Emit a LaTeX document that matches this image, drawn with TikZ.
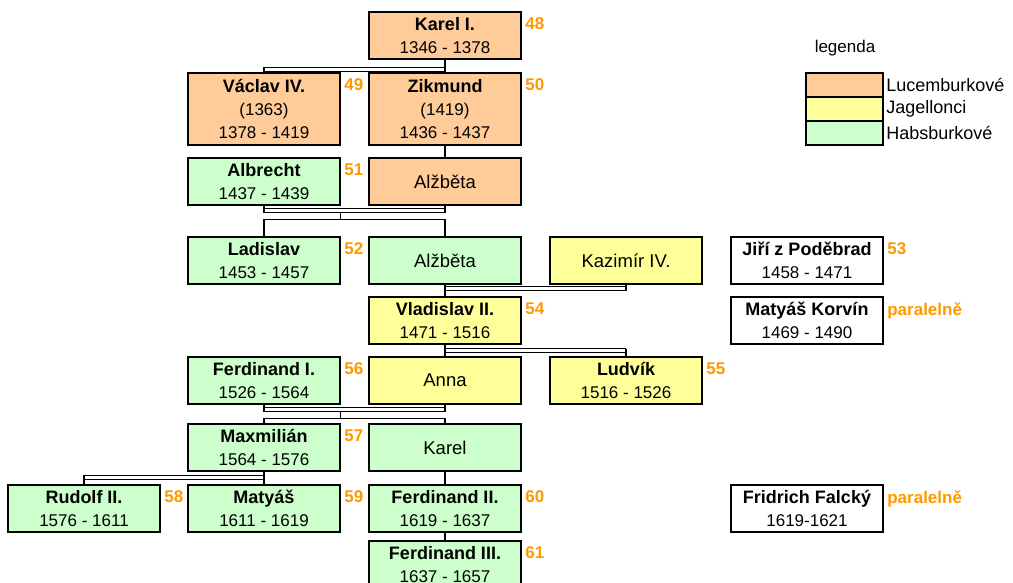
\documentclass[tikz,border=0pt]{standalone}
\usepackage{fontspec}
\setmainfont{Liberation Sans}
\definecolor{luxfill}{RGB}{255,204,153}
\definecolor{jagfill}{RGB}{255,255,153}
\definecolor{habfill}{RGB}{204,255,204}
\definecolor{numorange}{RGB}{255,153,0}
\newcommand{\panovnik}[1]{{\bfseries\fontsize{18}{23}\selectfont #1}}
\tikzset{
    every node/.style={inner sep=0pt, font=\fontsize{17}{23}\selectfont}
}
\tikzset{
    krab/.style={draw, line width=1.5pt, minimum width=152pt, minimum height=47pt, align=center},
    lux/.style={krab, fill=luxfill},
    jag/.style={krab, fill=jagfill},
    hab/.style={krab, fill=habfill},
    cizi/.style={krab, fill=white},
    jen/.style={font=\fontsize{18.5}{23}\selectfont},
    num/.style={anchor=north west, text=numorange, font=\bfseries\fontsize{17}{17}\selectfont},
    couple/.style={double, double distance=2.8pt},
    legbox/.style={draw, line width=1.5pt, minimum width=77pt, minimum height=24pt}
}

\begin{document}
\begin{tikzpicture}[x=1pt, y=1pt, line width=1.2pt]
  \useasboundingbox (0,0) rectangle (1013,-583);

  \node[lux] (karel) at (445,-35.5) {\panovnik{Karel I.}\\1346 - 1378};
  \node[lux, minimum height=72pt] (vaclav) at (264,-109) {\panovnik{Václav IV.}\\(1363)\\1378 - 1419};
  \node[lux, minimum height=72pt] (zikmund) at (445,-109) {\panovnik{Zikmund}\\(1419)\\1436 - 1437};
  \node[hab] (albrecht) at (264,-181.5) {\panovnik{Albrecht}\\1437 - 1439};
  \node[lux, jen] (alzbetaL) at (445,-181.5) {Alžběta};

  \node[hab] (ladislav) at (264,-260.5) {\panovnik{Ladislav}\\1453 - 1457};
  \node[hab, jen] (alzbetaH) at (445,-260.5) {Alžběta};
  \node[jag, jen] (kazimir) at (626,-260.5) {Kazimír IV.};
  \node[cizi] (jiri) at (807,-260.5) {\panovnik{Jiří z Poděbrad}\\1458 - 1471};

  \node[jag] (vladislav) at (445,-320.5) {\panovnik{Vladislav II.}\\1471 - 1516};
  \node[cizi] (korvin) at (807,-320.5) {\panovnik{Matyáš Korvín}\\1469 - 1490};

  \node[hab] (ferdinandI) at (264,-380.5) {\panovnik{Ferdinand I.}\\1526 - 1564};
  \node[jag, jen] (anna) at (445,-380.5) {Anna};
  \node[jag] (ludvik) at (626,-380.5) {\panovnik{Ludvík}\\1516 - 1526};

  \node[hab] (maxmilian) at (264,-447.5) {\panovnik{Maxmilián}\\1564 - 1576};
  \node[hab, jen] (karelH) at (445,-447.5) {Karel};

  \node[hab] (rudolf) at (84,-508.5) {\panovnik{Rudolf II.}\\1576 - 1611};
  \node[hab] (matyas) at (264,-508.5) {\panovnik{Matyáš}\\1611 - 1619};
  \node[hab] (ferdinandII) at (445,-508.5) {\panovnik{Ferdinand II.}\\1619 - 1637};
  \node[cizi] (fridrich) at (807,-508.5) {\panovnik{Fridrich Falcký}\\1619-1621};
  \node[hab] (ferdinandIII) at (445,-564.5) {\panovnik{Ferdinand III.}\\1637 - 1657};

  % poradi
  \node[num] (n48) at ([shift={(3pt,-6pt)}]karel.north east) {48};
  \node[num] (n49) at ([shift={(3pt,-6pt)}]vaclav.north east) {49};
  \node[num] (n50) at ([shift={(3pt,-6pt)}]zikmund.north east) {50};
  \node[num] (n51) at ([shift={(3pt,-6pt)}]albrecht.north east) {51};
  \node[num] (n52) at ([shift={(3pt,-6pt)}]ladislav.north east) {52};
  \node[num] (n53) at ([shift={(3pt,-6pt)}]jiri.north east) {53};
  \node[num] (n54) at ([shift={(3pt,-6pt)}]vladislav.north east) {54};
  \node[num] (par1) at ([shift={(3pt,-6pt)}]korvin.north east) {paralelně};
  \node[num] (n55) at ([shift={(3pt,-6pt)}]ludvik.north east) {55};
  \node[num] (n56) at ([shift={(3pt,-6pt)}]ferdinandI.north east) {56};
  \node[num] (n57) at ([shift={(3pt,-6pt)}]maxmilian.north east) {57};
  \node[num] (n58) at ([shift={(3pt,-6pt)}]rudolf.north east) {58};
  \node[num] (n59) at ([shift={(3pt,-6pt)}]matyas.north east) {59};
  \node[num] (n60) at ([shift={(3pt,-6pt)}]ferdinandII.north east) {60};
  \node[num] (par2) at ([shift={(3pt,-6pt)}]fridrich.north east) {paralelně};
  \node[num] (n61) at ([shift={(3pt,-6pt)}]ferdinandIII.north east) {61};

  % legenda
  \node (legenda) at (845,-48) {legenda};
  \node[legbox, fill=luxfill] (legL) at (844.5,-85) {};
  \node[legbox, fill=jagfill] (legJ) at (844.5,-109) {};
  \node[legbox, fill=habfill] (legH) at (844.5,-133) {};
  \node[anchor=west, inner sep=2pt, font=\fontsize{18}{18}\selectfont] (txtL) at (legL.east) {Lucemburkové};
  \node[anchor=west, inner sep=2pt, font=\fontsize{18}{18}\selectfont] (txtJ) at (legJ.east) {Jagellonci};
  \node[anchor=west, inner sep=2pt, font=\fontsize{18}{18}\selectfont] (txtH) at (legH.east) {Habsburkové};

  % Karel I.
  \draw[couple] ([yshift=-9.5pt]karel.south) -- ([yshift=-9.5pt]karel.south -| vaclav.north);
  \draw (karel.south) -- (zikmund.north);
  \draw ([yshift=-7pt]karel.south -| vaclav.north) -- (vaclav.north);
  \draw (zikmund.south) -- (alzbetaL.north);

  % Albrecht a Alzbeta
  \draw[couple] ([yshift=-5pt]albrecht.south) -- ([yshift=-5pt]albrecht.south -| alzbetaL.south);
  \draw (albrecht.south) -- ++(0,-7);
  \draw (alzbetaL.south) -- ++(0,-7);
  \draw ([yshift=-7pt]albrecht.south -| albrecht.east) -- ([yshift=-14pt]albrecht.south -| albrecht.east);
  \draw (ladislav.north) |- ([yshift=-14pt]albrecht.south -| alzbetaH.north) -- (alzbetaH.north);

  % Alzbeta a Kazimir
  \draw[couple] ([yshift=-4pt]alzbetaH.south) -- ([yshift=-4pt]alzbetaH.south -| kazimir.south);
  \draw (alzbetaH.south) -- (vladislav.north);
  \draw (kazimir.south) -- ++(0,-6);

  % Vladislav II.
  \draw[couple] ([yshift=-5.5pt]vladislav.south) -- ([yshift=-5.5pt]vladislav.south -| ludvik.north);
  \draw (vladislav.south) -- (anna.north);
  \draw ([yshift=-4pt]vladislav.south -| ludvik.north) -- (ludvik.north);

  % Ferdinand I. a Anna
  \draw[couple] ([yshift=-5pt]ferdinandI.south) -- ([yshift=-5pt]ferdinandI.south -| anna.south);
  \draw (ferdinandI.south) -- ++(0,-7);
  \draw (anna.south) -- ++(0,-7);
  \draw ([yshift=-7pt]ferdinandI.south -| ferdinandI.east) -- ([yshift=-14pt]ferdinandI.south -| ferdinandI.east);
  \draw (maxmilian.north) |- ([yshift=-14pt]ferdinandI.south -| karelH.north) -- (karelH.north);

  % Maxmilian
  \draw[couple] ([yshift=-5.5pt]maxmilian.south) -- ([yshift=-5.5pt]maxmilian.south -| rudolf.north);
  \draw (maxmilian.south) -- (matyas.north);
  \draw ([yshift=-3.5pt]maxmilian.south -| rudolf.north) -- (rudolf.north);

  \draw (karelH.south) -- (ferdinandII.north);
  \draw (ferdinandII.south) -- (ferdinandIII.north);
\end{tikzpicture}
\end{document}
